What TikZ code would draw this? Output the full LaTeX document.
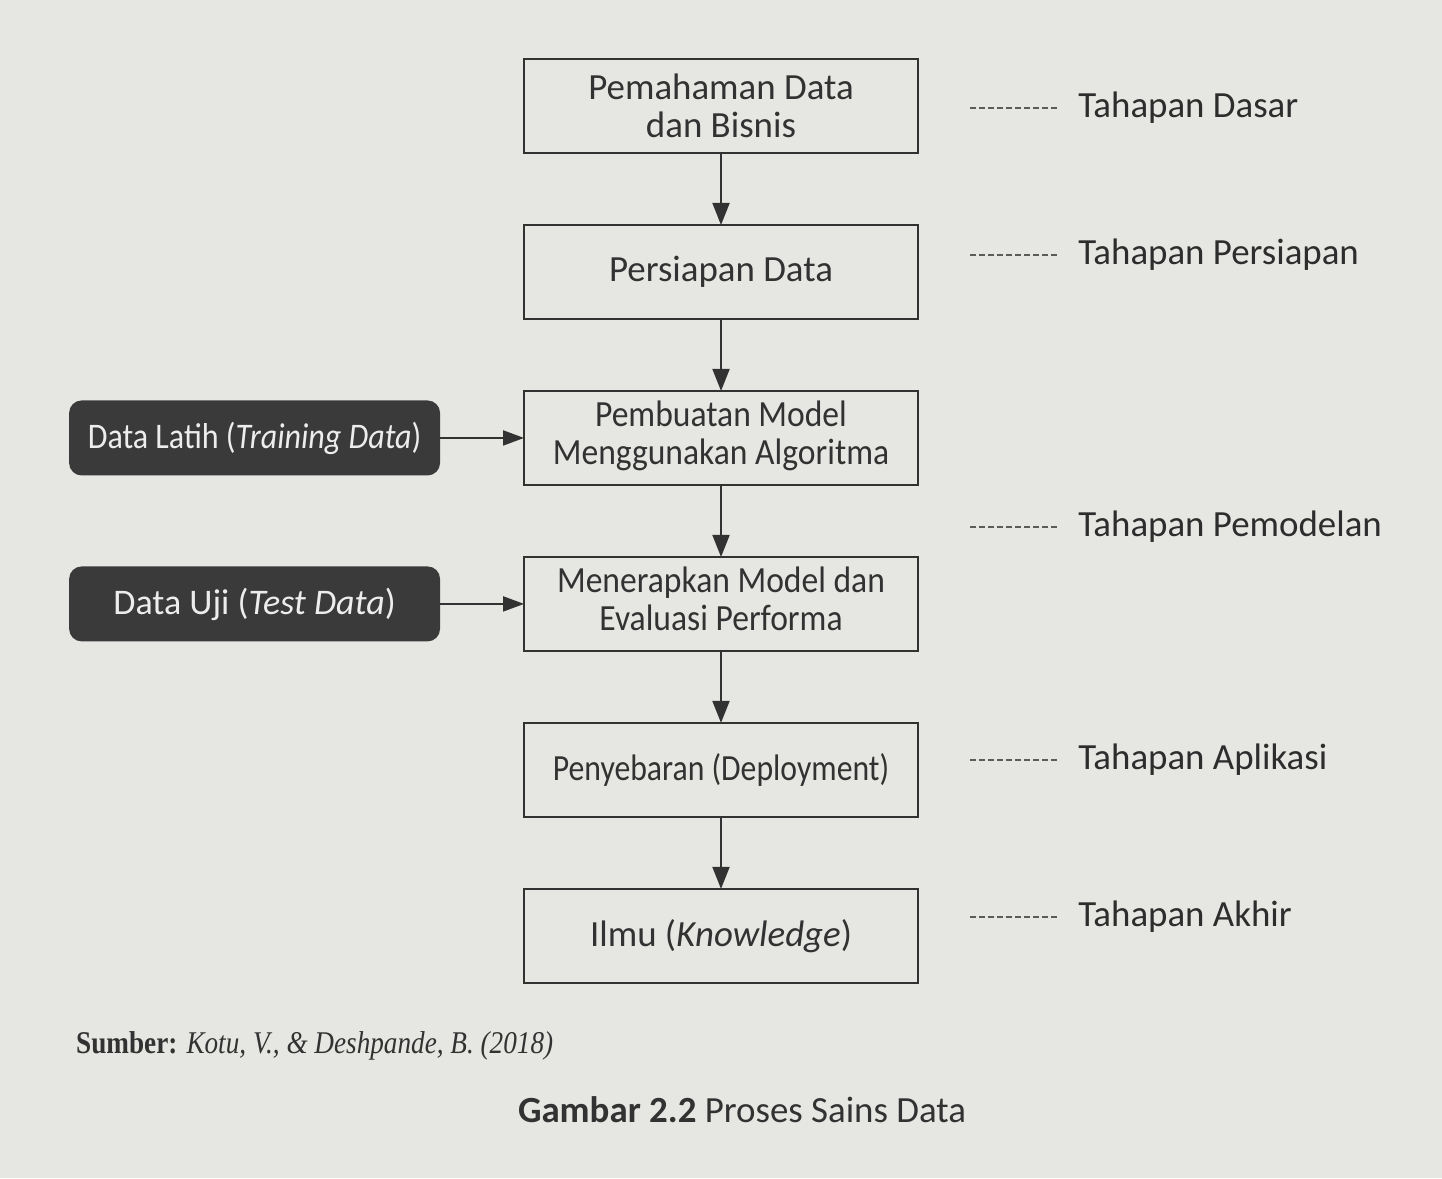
\documentclass[tikz,border=0pt]{standalone}
\usepackage{fontspec}
\setmainfont{Carlito}
\newfontfamily\srcfont{Liberation Serif}
\usetikzlibrary{chains,positioning,arrows.meta}
\definecolor{paper}{RGB}{230,230,227}
\definecolor{ink}{RGB}{50,50,50}
\definecolor{darkbox}{RGB}{58,58,58}

\begin{document}
\begin{tikzpicture}[
	x=0.02cm, y=-0.02cm,
	StepBox/.style={draw=ink, line width=1.2pt, minimum width=7.88cm, minimum height=1.88cm,
		align=center, outer sep=0pt, on chain, fill=paper, text=ink,
		font=\fontsize{21}{21.5}\selectfont},
	DataBox/.style={rounded corners=0.25cm, fill=darkbox, text=white!93!black,
		minimum width=7.42cm, minimum height=1.5cm, outer sep=0pt,
		font=\fontsize{20.5}{22}\selectfont},
	PhaseLabel/.style={anchor=west, inner xsep=0.42cm, inner ysep=0pt, text=ink!90!black,
		font=\fontsize{21}{24}\selectfont},
	Flow/.style={draw=ink, line width=1.1pt, -{Triangle[length=0.44cm, width=0.34cm]}},
	PhaseLine/.style={draw=ink!80, line width=1pt, dash pattern=on 0.12cm off 0.06cm},
	]
	\fill[paper] (0,0) rectangle (1442,1178);
	
	\begin{scope}[shift={(721,106)}, start chain = going below, node distance = 1.44cm]
	\node [StepBox] (1) {Pemahaman Data\\dan Bisnis};
	\node [StepBox] (2) {Persiapan Data};
	\node [StepBox] (3) {\scalebox{0.91}[1]{\begin{tabular}{@{}c@{}}Pembuatan Model\\Menggunakan Algoritma\end{tabular}}};
	\node [StepBox] (4) {\scalebox{0.91}[1]{\begin{tabular}{@{}c@{}}Menerapkan Model dan\\Evaluasi Performa\end{tabular}}};
	\node [StepBox] (5) {\scalebox{0.86}[1]{Penyebaran (Deployment)}};
	\node [StepBox] (6) {Ilmu (\textit{Knowledge})};
	\end{scope}
	\foreach \a/\b in {1/2, 2/3, 3/4, 4/5, 5/6}
	\draw [Flow] (\a) -- (\b);
	
	\node [DataBox, left = 1.68cm of 3] (train) {\scalebox{0.89}[1]{Data Latih (\textit{Training Data})}};
	\node [DataBox, left = 1.68cm of 4] (test) {Data Uji (\textit{Test Data})};
	\draw [Flow, -{Triangle[length=0.42cm, width=0.3cm]}] (train) -- (3);
	\draw [Flow, -{Triangle[length=0.42cm, width=0.3cm]}] (test) -- (4);
	
	% tahapan
	\node [PhaseLabel] (dasar) at (1057,108) {Tahapan Dasar};
	\node [PhaseLabel] (persiapan) at (1057,255) {Tahapan Persiapan};
	\node [PhaseLabel] (pemodelan) at (1057,527) {Tahapan Pemodelan};
	\node [PhaseLabel] (aplikasi) at (1057,760) {Tahapan Aplikasi};
	\node [PhaseLabel] (akhir) at (1057,917) {Tahapan Akhir};
	\foreach \p in {dasar, persiapan, pemodelan, aplikasi, akhir}
	\draw [PhaseLine] (\p.west) -- ++(-87,0);
	
	\node [anchor=west, text=ink, font=\srcfont\fontsize{18}{20}\selectfont] (source) at (70,1046)
	{\scalebox{0.86}[1]{\textbf{Sumber:} \textit{Kotu, V., \& Deshpande, B. (2018)}}};
	\node [text=ink, font=\fontsize{21}{24}\selectfont] (caption) at (742,1110)
	{\textbf{Gambar 2.2} Proses Sains Data};
\end{tikzpicture}
\end{document}
